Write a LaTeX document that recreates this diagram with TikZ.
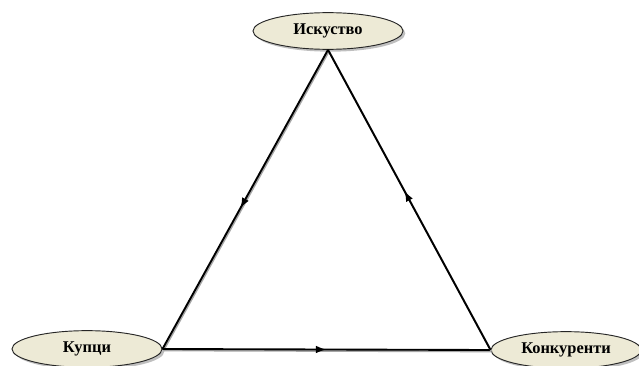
\documentclass[tikz,border=0pt]{standalone}
\usepackage{fontspec}
\setmainfont{Liberation Serif}
\usetikzlibrary{shapes.geometric,shadows,arrows.meta,decorations.markings}
\definecolor{ovalfill}{RGB}{237,234,214}

\begin{document}
\begin{tikzpicture}[x=0.03cm, y=-0.03cm,
    pole/.style={ellipse, draw=black!85, line width=0.8pt, fill=ovalfill,
        minimum width=4.5cm, minimum height=1.1cm, inner sep=0pt,
        font=\bfseries\fontsize{14}{16}\selectfont,
        drop shadow={shadow xshift=2pt, shadow yshift=-2pt, fill=black!50}},
    link/.style={line width=1.6pt,
        preaction={draw=black!35, line width=1.6pt, transform canvas={shift={(0.8pt,-1.2pt)}}},
        postaction={decorate}, decoration={markings,
        mark=at position #1 with {\arrow{Latex[length=9pt,width=6.5pt]}}}}]
    \useasboundingbox (0,0) rectangle (639,366);

    % Polovi na triagalnikot
    \node[pole] (iskustvo) at (328,31) {Искуство};
    \node[pole] (kuptsi) at (87,349) {Купци};
    \node[pole] (konkurenti) at (566,350) {Конкуренти};

    % Vrski megju polovite
    \draw[link=0.53] (iskustvo.south) -- (kuptsi.east);
    \draw[link=0.5] (kuptsi.east) -- (konkurenti.west);
    \draw[link=0.53] (konkurenti.west) -- (iskustvo.south);
\end{tikzpicture}
\end{document}
